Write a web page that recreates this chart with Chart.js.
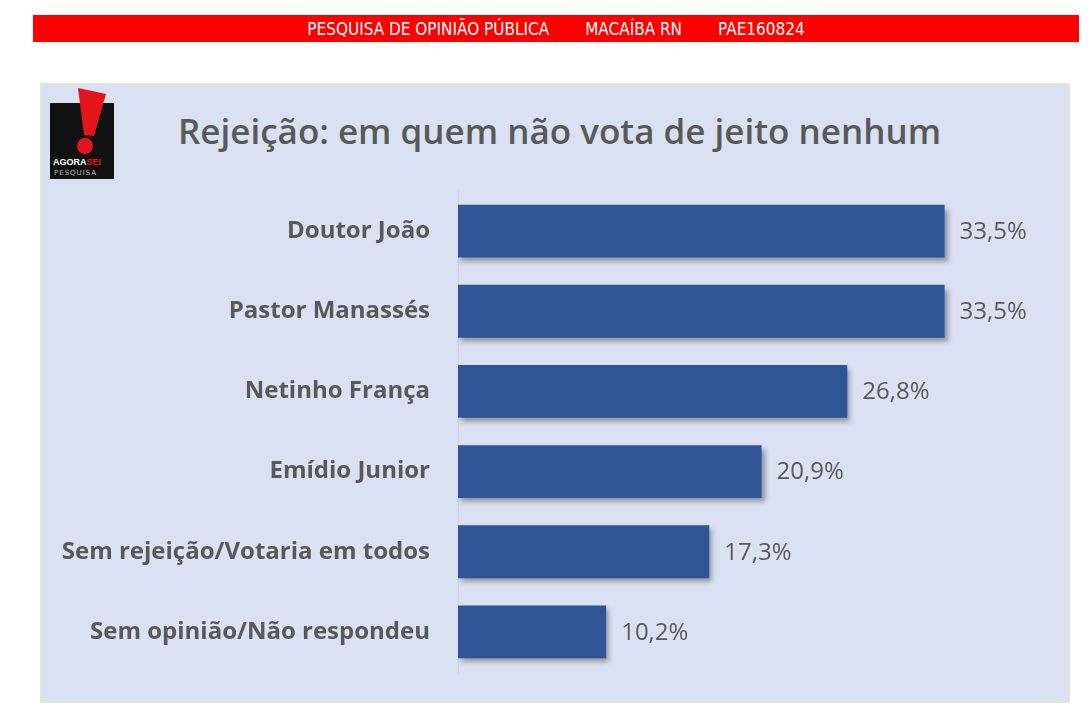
<!DOCTYPE html>
<html>
<head>
<meta charset="utf-8">
<script src="https://cdn.jsdelivr.net/npm/chart.js@4"></script>
<style>
  html, body { margin: 0; padding: 0; background: #fff; }
  body { width: 1091px; height: 722px; position: relative; overflow: hidden; font-family: "Open Sans", sans-serif; }
  #band { position: absolute; left: 33px; top: 15px; width: 1046px; height: 27px; background: #ff0000;
          color: #fff; font-family: "Liberation Sans Narrow", "DejaVu Sans Condensed", sans-serif; font-size: 17px;
          line-height: 28px; text-align: center; }
  #band span { margin: 0 18px; }
  #panel { position: absolute; left: 40px; top: 83px; width: 1030px; height: 620px; background: #d9e1f2;
           border: 1px solid #ecebb8; box-sizing: border-box; }
  #title { position: absolute; left: 178px; top: 107px; font-size: 35px; font-weight: 600; color: #595959; white-space: nowrap; }
  #logo { position: absolute; left: 50px; top: 88px; }
  #wrap { position: absolute; left: 0; top: 0; width: 1091px; height: 722px; }
</style>
</head>
<body>
<div id="band"><span>PESQUISA DE OPINIÃO PÚBLICA</span><span>MACAÍBA RN</span><span>PAE160824</span></div>
<div id="panel"></div>
<svg id="logo" width="66" height="92" viewBox="0 0 66 92">
  <rect x="0" y="15" width="64" height="76" fill="#111"/>
  <polygon points="28,0 56,6 44,48 34,47" fill="#e3141b"/>
  <circle cx="35" cy="58" r="8" fill="#e3141b"/>
  <text x="3" y="77" font-family="Liberation Sans Narrow, sans-serif" font-weight="bold" font-size="9" fill="#fff">AGORA<tspan fill="#e3141b">SEI</tspan></text>
  <text x="4" y="87" font-family="DejaVu Sans, sans-serif" font-size="7" letter-spacing="1" fill="#bbb">PESQUISA</text>
</svg>
<div id="title">Rejeição: em quem não vota de jeito nenhum</div>
<div id="wrap"><canvas id="chart"></canvas></div>
<script>
const categories = ['Doutor João', 'Pastor Manassés', 'Netinho França', 'Emídio Junior', 'Sem rejeição/Votaria em todos', 'Sem opinião/Não respondeu'];
const values = [33.5, 33.5, 26.8, 20.9, 17.3, 10.2];

const barShadow = {
  id: 'barShadow',
  beforeDatasetDraw(chart) {
    const c = chart.ctx;
    c.save();
    c.shadowColor = 'rgba(0,0,0,0.35)';
    c.shadowBlur = 5;
    c.shadowOffsetX = 3;
    c.shadowOffsetY = 4;
  },
  afterDatasetDraw(chart) {
    chart.ctx.restore();
  }
};

const valueLabels = {
  id: 'valueLabels',
  afterDatasetsDraw(chart) {
    const c = chart.ctx;
    const meta = chart.getDatasetMeta(0);
    c.save();
    c.font = '24px "Open Sans", sans-serif';
    c.fillStyle = '#595959';
    c.textAlign = 'left';
    c.textBaseline = 'middle';
    meta.data.forEach((bar, i) => {
      c.fillText(values[i].toFixed(1).replace('.', ',') + '%', bar.x + 15, bar.y + 1);
    });
    c.restore();
  }
};

document.addEventListener("DOMContentLoaded", () => {
  const ctx = document.getElementById('chart').getContext('2d');
  new Chart(ctx, {
    type: 'bar',
    data: {
      labels: categories,
      datasets: [{
        data: values,
        backgroundColor: '#2f5597',
        borderWidth: 0,
        barPercentage: 0.66,
        categoryPercentage: 1.0
      }]
    },
    options: {
      indexAxis: 'y',
      responsive: true,
      maintainAspectRatio: false,
      animation: false,
      layout: { padding: { left: 0, right: 52, top: 191, bottom: 50 } },
      plugins: { legend: { display: false }, tooltip: { enabled: false } },
      scales: {
        x: { display: false, min: 0, max: 40 },
        y: {
          afterFit(scale) { scale.width = 458; },
          grid: { display: false, drawTicks: false },
          border: { display: true, color: '#c9d0dc', width: 1 },
          ticks: {
            padding: 28,
            color: '#595959',
            font: { family: '"Open Sans", sans-serif', size: 24, weight: 'bold' }
          }
        }
      }
    },
    plugins: [barShadow, valueLabels]
  });
});
</script>
</body>
</html>
